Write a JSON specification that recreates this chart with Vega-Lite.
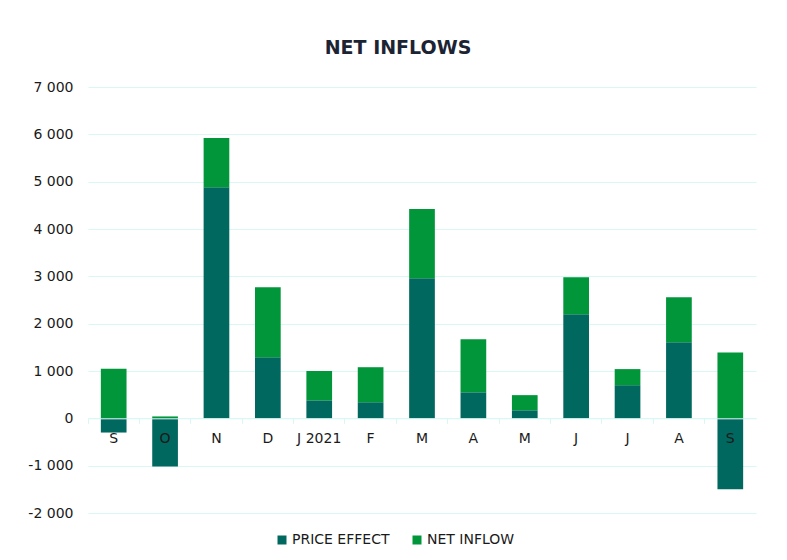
{
  "$schema": "https://vega.github.io/schema/vega-lite/v6.json",
  "autosize": "none",
  "width": 668,
  "height": 426,
  "padding": {"left": 88, "top": 87, "right": 31, "bottom": 47},
  "background": "#ffffff",
  "title": {
    "text": "NET INFLOWS",
    "font": "DejaVu Sans",
    "fontWeight": "bold",
    "fontSize": 19,
    "color": "#1c2434",
    "anchor": "middle",
    "dx": -24,
    "offset": 22
  },
  "data": {
    "values": [
      {"month": "S", "series": "PRICE EFFECT", "ord": 0, "value": -300},
      {"month": "S", "series": "NET INFLOW", "ord": 1, "value": 1050},
      {"month": "O", "series": "PRICE EFFECT", "ord": 0, "value": -1015},
      {"month": "O", "series": "NET INFLOW", "ord": 1, "value": 40},
      {"month": "N", "series": "PRICE EFFECT", "ord": 0, "value": 4880},
      {"month": "N", "series": "NET INFLOW", "ord": 1, "value": 1040},
      {"month": "D", "series": "PRICE EFFECT", "ord": 0, "value": 1290},
      {"month": "D", "series": "NET INFLOW", "ord": 1, "value": 1480},
      {"month": "J 2021", "series": "PRICE EFFECT", "ord": 0, "value": 380},
      {"month": "J 2021", "series": "NET INFLOW", "ord": 1, "value": 620},
      {"month": "F", "series": "PRICE EFFECT", "ord": 0, "value": 340},
      {"month": "F", "series": "NET INFLOW", "ord": 1, "value": 740},
      {"month": "M", "series": "PRICE EFFECT", "ord": 0, "value": 2960},
      {"month": "M", "series": "NET INFLOW", "ord": 1, "value": 1460},
      {"month": "A", "series": "PRICE EFFECT", "ord": 0, "value": 550},
      {"month": "A", "series": "NET INFLOW", "ord": 1, "value": 1120},
      {"month": "M ", "series": "PRICE EFFECT", "ord": 0, "value": 170},
      {"month": "M ", "series": "NET INFLOW", "ord": 1, "value": 320},
      {"month": "J", "series": "PRICE EFFECT", "ord": 0, "value": 2200},
      {"month": "J", "series": "NET INFLOW", "ord": 1, "value": 780},
      {"month": "J ", "series": "PRICE EFFECT", "ord": 0, "value": 700},
      {"month": "J ", "series": "NET INFLOW", "ord": 1, "value": 340},
      {"month": "A ", "series": "PRICE EFFECT", "ord": 0, "value": 1610},
      {"month": "A ", "series": "NET INFLOW", "ord": 1, "value": 950},
      {"month": "S ", "series": "PRICE EFFECT", "ord": 0, "value": -1500},
      {"month": "S ", "series": "NET INFLOW", "ord": 1, "value": 1390}
    ]
  },
  "mark": {"type": "bar", "width": {"band": 0.5}},
  "encoding": {
    "x": {
      "field": "month",
      "type": "nominal",
      "sort": null,
      "scale": {"paddingInner": 0, "paddingOuter": 0},
      "axis": {
        "title": null,
        "labelExpr": "trim(datum.label)",
        "labelAngle": 0,
        "offset": -94.67,
        "zindex": 1,
        "bandPosition": 0,
        "domainColor": "#d9f7f4",
        "tickColor": "#d9f7f4",
        "tickSize": 5,
        "labelPadding": 8,
        "labelFont": "DejaVu Sans",
        "labelFontSize": 14,
        "labelColor": "#1a1a1a"
      }
    },
    "y": {
      "field": "value",
      "type": "quantitative",
      "stack": "zero",
      "scale": {"domain": [-2000, 7000], "nice": false},
      "axis": {
        "title": null,
        "values": [-2000, -1000, 0, 1000, 2000, 3000, 4000, 5000, 6000, 7000],
        "labelExpr": "(datum.value < 0 ? '-' : '') + replace(format(abs(datum.value), ','), ',', ' ')",
        "domain": false,
        "ticks": false,
        "labelPadding": 15,
        "gridColor": "#d9f7f4",
        "gridWidth": 1,
        "labelFont": "DejaVu Sans",
        "labelFontSize": 14,
        "labelColor": "#1a1a1a"
      }
    },
    "color": {
      "field": "series",
      "type": "nominal",
      "scale": {"domain": ["PRICE EFFECT", "NET INFLOW"], "range": ["#00685e", "#009639"]},
      "legend": {
        "title": null,
        "orient": "none",
        "direction": "horizontal",
        "legendX": 187,
        "legendY": 446,
        "symbolType": "square",
        "symbolSize": 81,
        "symbolStrokeWidth": 0,
        "labelFont": "DejaVu Sans",
        "labelFontSize": 14,
        "labelColor": "#1a1a1a",
        "labelOffset": 3,
        "columnPadding": 20
      }
    },
    "order": {"field": "ord", "type": "quantitative"}
  },
  "config": {
    "view": {"stroke": null}
  }
}
